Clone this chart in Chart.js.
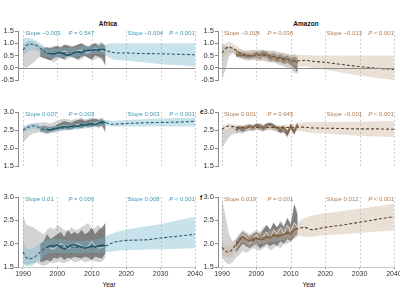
<!DOCTYPE html>
<html>
<head>
<meta charset="utf-8">
<script src="https://cdn.jsdelivr.net/npm/chart.js@4.4.0/dist/chart.umd.min.js"></script>
<style>
body{margin:0;width:400px;height:300px;overflow:hidden;background:#fff;position:relative;font-family:"Liberation Sans",Arial,sans-serif}
canvas{position:absolute}
.lbl{position:absolute;font-size:6.5px;color:#111;white-space:nowrap;line-height:7px}
</style>
</head>
<body>
<div class="lbl" style="left:108px;top:20px;transform:translateX(-50%);font-weight:bold">Africa</div>
<div class="lbl" style="left:306px;top:20px;transform:translateX(-50%);font-weight:bold">Amazon</div>
<div class="lbl" style="left:200px;top:108px;font-weight:bold">e</div>
<div class="lbl" style="left:200px;top:194px;font-weight:bold">f</div>
<div class="lbl" style="left:109px;top:281px;transform:translateX(-50%)">Year</div>
<div class="lbl" style="left:309px;top:281px;transform:translateX(-50%)">Year</div>

<canvas id="cA" width="211" height="79" style="left:0;top:23px"></canvas>
<canvas id="cB" width="211" height="84" style="left:0;top:104px"></canvas>
<canvas id="cC" width="211" height="92" style="left:0;top:189px"></canvas>
<canvas id="cD" width="210" height="79" style="left:200px;top:23px"></canvas>
<canvas id="cE" width="210" height="84" style="left:200px;top:104px"></canvas>
<canvas id="cF" width="210" height="92" style="left:200px;top:189px"></canvas>

<script>
// shared x positions
const decades = [1990, 2000, 2010, 2020, 2030, 2040];
const fitYears = [1990,1991,1992,1993,1994,1995,1996,1997,1998,2000,2002,2004,2006,2008,2010,2012,2014,2016,2020,2025,2030,2035,2040];
const africaObsYears = [1990,1991,1992,1993,1994,1995,1996,1997,1998,1999,2000,2001,2002,2003,2004,2005,2006,2007,2008,2009,2010,2011,2012,2013,2014];
const africaDarkYears = [1995,1996,1997,1998,1999,2000,2001,2002,2003,2004,2005,2006,2007,2008,2009,2010,2011,2012,2013,2014];
const africaLineYears = [1997,1998,1999,2000,2001,2002,2003,2004,2005,2006,2007,2008,2009,2010,2011,2012,2013,2014];
const amazonObsYears = [1990,1991,1992,1993,1994,1995,1996,1997,1998,1999,2000,2001,2002,2003,2004,2005,2006,2007,2008,2009,2010,2011,2012];
const amazonDarkYears = [1994,1995,1996,1997,1998,1999,2000,2001,2002,2003,2004,2005,2006,2007,2008,2009,2010,2011,2012];

// panel a - Africa top
const aFitMid = [0.72,0.9,0.97,0.95,0.9,0.8,0.68,0.6,0.58,0.6,0.62,0.6,0.65,0.7,0.72,0.75,0.72,0.62,0.6,0.58,0.57,0.55,0.53];
const aFitHi = [1.2,1.22,1.2,1.15,1.1,1.0,0.9,0.8,0.78,0.8,0.82,0.8,0.85,0.88,0.9,0.92,0.95,1.0,1.0,1.0,1.0,1.0,1.0];
const aFitLo = [0.5,0.62,0.72,0.75,0.7,0.6,0.48,0.42,0.4,0.42,0.44,0.42,0.47,0.52,0.55,0.58,0.5,0.35,0.3,0.22,0.15,0.1,0.05];
const aObsHi = [0.95,1.05,1.1,1.05,1.0,0.9,0.85,0.8,0.85,0.9,0.85,0.8,0.9,0.95,0.9,0.85,0.95,1.0,0.95,0.9,0.95,1.0,1.0,1.05,0.9];
const aObsLo = [0.05,0.0,0.1,0.2,0.35,0.45,0.4,0.35,0.3,0.2,0.35,0.4,0.3,0.35,0.45,0.4,0.3,0.35,0.45,0.4,0.3,0.35,0.4,0.3,0.05];
const aDarkHi = [0.75,0.8,0.85,0.8,0.85,0.9,0.85,0.95,0.9,0.85,0.9,0.95,1.0,0.9,0.85,0.95,1.0,0.9,1.0,0.85];
const aDarkLo = [0.45,0.4,0.35,0.3,0.4,0.45,0.4,0.35,0.5,0.45,0.4,0.35,0.45,0.5,0.4,0.35,0.5,0.45,0.4,0.1];
const aLine = [0.6,0.58,0.55,0.6,0.62,0.55,0.5,0.55,0.62,0.65,0.6,0.68,0.72,0.7,0.75,0.7,0.76,0.72];
const aLight = [0.65,0.6,0.58,0.55,0.6,0.68,0.62,0.55,0.6,0.7,0.72,0.65,0.6,0.7,0.8,0.72,0.68,0.7];
const aNotes = ['Slope \u22120.003', '= 0.547', 'Slope \u22120.004', '< 0.001'];

// panel b - Africa middle
const bFitMid = [2.49,2.55,2.6,2.61,2.6,2.55,2.52,2.52,2.53,2.54,2.56,2.58,2.6,2.62,2.65,2.68,2.7,2.66,2.68,2.7,2.71,2.72,2.74];
const bFitHi = [2.57,2.63,2.68,2.69,2.68,2.63,2.6,2.6,2.61,2.62,2.64,2.66,2.68,2.7,2.73,2.76,2.78,2.76,2.78,2.8,2.82,2.83,2.85];
const bFitLo = [2.41,2.47,2.52,2.53,2.52,2.47,2.44,2.44,2.45,2.46,2.48,2.5,2.52,2.54,2.57,2.6,2.62,2.6,2.6,2.6,2.6,2.6,2.6];
const bObsHi = [2.6,2.62,2.65,2.68,2.7,2.7,2.72,2.7,2.68,2.72,2.75,2.8,2.82,2.8,2.78,2.8,2.82,2.85,2.8,2.82,2.85,2.8,2.82,2.85,2.75];
const bObsLo = [2.15,2.25,2.35,2.4,2.42,2.45,2.4,2.38,2.4,2.42,2.45,2.48,2.5,2.52,2.5,2.55,2.52,2.55,2.58,2.55,2.6,2.58,2.55,2.6,2.4];
const bDarkHi = [2.6,2.62,2.6,2.58,2.6,2.65,2.7,2.75,2.72,2.7,2.75,2.78,2.8,2.75,2.78,2.8,2.82,2.78,2.8,2.72];
const bDarkLo = [2.45,2.45,2.42,2.45,2.48,2.5,2.52,2.55,2.5,2.52,2.55,2.58,2.55,2.58,2.6,2.58,2.62,2.6,2.62,2.45];
const bLine = [2.52,2.5,2.52,2.55,2.58,2.6,2.58,2.6,2.62,2.6,2.65,2.63,2.66,2.68,2.65,2.7,2.72,2.7];
const bLight = [2.55,2.52,2.5,2.55,2.6,2.62,2.6,2.58,2.62,2.65,2.62,2.6,2.65,2.7,2.68,2.72,2.7,2.68];
const bNotes = ['Slope 0.007', '= 0.003', 'Slope 0.003', '< 0.001'];

// panel c - Africa bottom
const cFitMid = [1.82,1.7,1.68,1.7,1.75,1.82,1.88,1.93,1.96,1.96,1.95,1.93,1.92,1.92,1.93,1.94,1.95,2.02,2.07,2.08,2.12,2.16,2.2];
const cFitHi = [2.05,1.92,1.88,1.9,1.95,2.0,2.05,2.08,2.1,2.1,2.08,2.06,2.05,2.06,2.08,2.1,2.15,2.22,2.3,2.36,2.42,2.5,2.57];
const cFitLo = [1.6,1.52,1.52,1.55,1.6,1.65,1.72,1.78,1.8,1.8,1.8,1.8,1.8,1.8,1.8,1.8,1.82,1.84,1.86,1.87,1.88,1.89,1.9];
const cObsHi = [2.6,2.4,2.38,2.35,2.3,2.25,2.2,2.3,2.35,2.3,2.4,2.35,2.3,2.25,2.35,2.3,2.3,2.35,2.4,2.45,2.3,2.35,2.4,2.3,2.45];
const cObsLo = [1.55,1.55,1.57,1.58,1.6,1.55,1.52,1.55,1.6,1.58,1.62,1.6,1.58,1.62,1.65,1.6,1.62,1.65,1.6,1.62,1.65,1.62,1.6,1.62,1.7];
const cDarkHi = [2.0,2.05,2.2,2.1,2.15,2.2,2.25,2.15,2.3,2.2,2.25,2.2,2.3,2.2,2.25,2.35,2.2,2.3,2.35,2.45];
const cDarkLo = [1.6,1.62,1.65,1.62,1.7,1.68,1.72,1.65,1.7,1.68,1.72,1.7,1.68,1.72,1.7,1.65,1.72,1.7,1.68,1.8];
const cLine = [1.92,1.95,1.95,1.97,1.92,1.88,1.92,1.97,1.98,1.95,1.93,1.9,1.92,1.95,1.93,1.95,1.97,1.95];
const cLight = [1.95,1.9,1.88,1.95,2.0,1.95,1.9,1.92,1.98,2.0,1.95,1.9,1.95,2.05,1.95,1.9,1.92,1.95];
const cNotes = ['Slope 0.01', '= 0.006', 'Slope 0.008', '< 0.001'];

// panel d - Amazon top
const dFitMid = [0.6,0.78,0.84,0.8,0.72,0.62,0.55,0.52,0.5,0.52,0.5,0.48,0.42,0.38,0.32,0.28,0.3,0.27,0.22,0.13,0.05,-0.02,-0.07];
const dFitHi = [0.95,1.0,1.05,1.0,0.92,0.82,0.75,0.72,0.7,0.72,0.7,0.68,0.62,0.58,0.55,0.52,0.52,0.5,0.5,0.5,0.5,0.5,0.5];
const dFitLo = [0.3,0.5,0.62,0.6,0.52,0.42,0.35,0.32,0.3,0.32,0.3,0.28,0.22,0.18,0.1,0.05,0.05,0.0,-0.07,-0.2,-0.32,-0.42,-0.5];
const dObsHi = [0.95,0.9,0.88,0.85,0.78,0.75,0.7,0.68,0.7,0.72,0.7,0.75,0.72,0.7,0.68,0.7,0.65,0.62,0.6,0.55,0.5,0.55,0.5];
const dObsLo = [-0.45,-0.1,0.45,0.6,0.55,0.45,0.35,0.32,0.3,0.35,0.3,0.28,0.3,0.25,0.2,0.22,0.15,0.1,0.05,0.0,-0.05,-0.2,-0.25];
const dDarkHi = [0.7,0.65,0.62,0.6,0.58,0.6,0.65,0.62,0.7,0.65,0.55,0.6,0.5,0.55,0.45,0.5,0.4,0.45,0.4];
const dDarkLo = [0.45,0.42,0.42,0.4,0.38,0.4,0.42,0.35,0.45,0.4,0.28,0.3,0.22,0.25,0.15,0.2,0.1,0.0,-0.2];
const dLine = [0.55,0.52,0.52,0.5,0.48,0.5,0.55,0.48,0.58,0.52,0.42,0.45,0.36,0.4,0.3,0.35,0.25,0.28,0.2];
const dLight = [0.58,0.55,0.55,0.52,0.5,0.55,0.5,0.45,0.55,0.48,0.45,0.4,0.4,0.35,0.35,0.3,0.3,0.25,0.22];
const dNotes = ['Slope \u22120.018', '= 0.036', 'Slope \u22120.013', '< 0.001'];

// panel e - Amazon middle
const eFitMid = [2.52,2.58,2.61,2.6,2.58,2.57,2.57,2.57,2.57,2.57,2.57,2.57,2.57,2.57,2.57,2.58,2.58,2.56,2.55,2.54,2.53,2.53,2.52];
const eFitHi = [2.6,2.65,2.68,2.67,2.65,2.64,2.64,2.64,2.64,2.64,2.64,2.64,2.64,2.64,2.65,2.68,2.72,2.72,2.72,2.73,2.73,2.74,2.74];
const eFitLo = [2.45,2.51,2.54,2.53,2.51,2.5,2.5,2.5,2.5,2.5,2.5,2.5,2.5,2.5,2.5,2.48,2.45,2.42,2.4,2.37,2.34,2.32,2.3];
const eObsHi = [2.5,2.5,2.55,2.6,2.6,2.62,2.62,2.65,2.68,2.65,2.68,2.7,2.65,2.7,2.72,2.68,2.62,2.6,2.62,2.5,2.7,2.55,2.75];
const eObsLo = [2.0,2.15,2.3,2.38,2.4,2.42,2.4,2.45,2.48,2.45,2.5,2.48,2.45,2.5,2.52,2.48,2.45,2.4,2.42,2.28,2.5,2.35,2.55];
const eDarkHi = [2.58,2.62,2.6,2.62,2.65,2.62,2.68,2.66,2.62,2.68,2.7,2.66,2.6,2.58,2.62,2.48,2.68,2.52,2.72];
const eDarkLo = [2.42,2.48,2.45,2.48,2.52,2.5,2.55,2.52,2.48,2.55,2.58,2.52,2.48,2.42,2.45,2.32,2.52,2.38,2.58];
const eLine = [2.5,2.55,2.52,2.55,2.6,2.58,2.62,2.6,2.55,2.62,2.65,2.6,2.55,2.5,2.55,2.4,2.6,2.45,2.65];
const eLight = [2.45,2.5,2.55,2.5,2.55,2.6,2.55,2.6,2.55,2.6,2.62,2.55,2.5,2.52,2.5,2.42,2.55,2.48,2.62];
const eNotes = ['Slope 0.001', '= 0.645', 'Slope \u22120.001', '< 0.001'];

// panel f - Amazon bottom
const fFitMid = [1.92,1.84,1.82,1.88,1.98,2.08,2.14,2.1,2.05,2.1,2.12,2.15,2.18,2.2,2.25,2.32,2.35,2.3,2.35,2.4,2.46,2.52,2.58];
const fFitHi = [2.05,1.95,1.95,2.0,2.1,2.2,2.25,2.22,2.18,2.22,2.24,2.27,2.3,2.33,2.38,2.45,2.55,2.6,2.65,2.7,2.75,2.8,2.86];
const fFitLo = [1.78,1.72,1.7,1.75,1.85,1.95,2.03,1.98,1.93,1.98,2.0,2.03,2.06,2.08,2.12,2.18,2.15,2.15,2.18,2.2,2.23,2.26,2.29];
const fObsHi = [2.95,2.6,2.2,2.05,2.1,2.2,2.3,2.25,2.2,2.25,2.3,2.25,2.35,2.4,2.3,2.45,2.35,2.5,2.4,2.55,2.45,2.85,2.7];
const fObsLo = [1.7,1.6,1.55,1.6,1.7,1.75,1.85,1.8,1.85,1.9,1.88,1.85,1.9,1.95,1.85,1.9,1.95,1.9,2.0,2.0,2.05,2.1,2.15];
const fDarkHi = [2.05,2.15,2.25,2.2,2.15,2.2,2.25,2.2,2.3,2.4,2.3,2.45,2.35,2.45,2.35,2.55,2.4,2.85,2.6];
const fDarkLo = [1.8,1.9,2.0,1.95,1.9,1.95,2.0,1.9,1.95,2.0,1.95,2.0,1.95,2.05,2.0,2.1,2.05,2.15,2.2];
const fLine = [1.95,2.05,2.15,2.1,2.05,2.1,2.12,2.08,2.1,2.15,2.12,2.2,2.15,2.18,2.2,2.25,2.2,2.3,2.32];
const fLight = [1.9,2.0,2.2,2.15,2.0,2.1,2.2,2.05,2.15,2.25,2.1,2.3,2.2,2.35,2.2,2.4,2.25,2.45,2.35];
const fNotes = ['Slope 0.019', '= 0.001', 'Slope 0.012', '< 0.001'];

const AFRICA = {band: 'rgba(115,182,206,0.4)', text: '#4696b6', dash: '#2b5d70', line: '#1d5266', light: 'rgba(232,240,242,0.9)'};
const AMAZON = {band: 'rgba(199,173,144,0.38)', text: '#ad7b52', dash: '#5a4433', line: '#84603f', light: 'rgba(242,234,224,0.9)'};
const FONT = '"Liberation Sans", Arial, sans-serif';

function pts(xs, ys) {
  return xs.map((x, i) => ({x: x, y: ys[i]}));
}

function band(xs, hi, lo, color, order, smooth) {
  let mode = smooth ? 'monotone' : 'default';
  return [
    {data: pts(xs, hi), fill: '+1', backgroundColor: color, borderColor: 'rgba(0,0,0,0)', borderWidth: 0, pointRadius: 0, order: order, cubicInterpolationMode: mode},
    {data: pts(xs, lo), fill: false, borderColor: 'rgba(0,0,0,0)', borderWidth: 0, pointRadius: 0, order: order, cubicInterpolationMode: mode}
  ];
}

// dashed decade lines, zero line and the slope notes
const guides = {
  id: 'guides',
  beforeDatasetsDraw(chart) {
    const {ctx, chartArea: a, scales: {x}} = chart;
    ctx.save();
    ctx.strokeStyle = '#c4c4c4';
    ctx.lineWidth = 0.8;
    ctx.setLineDash([2, 2]);
    decades.forEach(d => {
      let px = Math.round(x.getPixelForValue(d)) + 0.5;
      ctx.beginPath();
      ctx.moveTo(px, a.top);
      ctx.lineTo(px, a.bottom);
      ctx.stroke();
    });
    ctx.restore();
  },
  afterDatasetsDraw(chart, args, opts) {
    const {ctx, chartArea: a, scales: {x, y}} = chart;
    ctx.save();
    if (y.min < 0) {
      let py = Math.round(y.getPixelForValue(0)) + 0.5;
      ctx.strokeStyle = '#8a8a8a';
      ctx.lineWidth = 1;
      ctx.beginPath();
      ctx.moveTo(a.left, py);
      ctx.lineTo(a.right, py);
      ctx.stroke();
    }
    const n = opts.notes;
    const ty = a.top + 2.5;
    ctx.fillStyle = opts.color;
    ctx.textBaseline = 'middle';
    ctx.font = '6px ' + FONT;
    ctx.fillText(n[0], x.getPixelForValue(1990.6), ty);
    ctx.fillText(n[2], x.getPixelForValue(2020.4), ty);
    // P values with italic P
    const drawP = (rest, left) => {
      ctx.font = 'italic 6px ' + FONT;
      let w = ctx.measureText('P ').width;
      ctx.fillText('P', left, ty);
      ctx.font = '6px ' + FONT;
      ctx.fillText(rest, left + w, ty);
    };
    drawP(n[1], x.getPixelForValue(2003.2));
    ctx.font = '6px ' + FONT;
    let restW = ctx.measureText(n[3]).width;
    ctx.font = 'italic 6px ' + FONT;
    let pW = ctx.measureText('P ').width;
    drawP(n[3], x.getPixelForValue(2040) - restW - pW);
    ctx.restore();
  }
};

function makeChart(id, p) {
  const c = p.colors;
  const datasets = [].concat(
    band(p.obsYears, p.obsHi, p.obsLo, 'rgba(120,120,120,0.33)', 6, false),
    band(p.darkYears, p.darkHi, p.darkLo, 'rgba(45,45,45,0.5)', 5, false),
    band(fitYears, p.fitHi, p.fitLo, c.band, 4, true),
    [
      {data: pts(p.lineYears, p.light), borderColor: c.light, borderWidth: 0.8, pointRadius: 0, fill: false, order: 3},
      {data: pts(fitYears, p.fitMid), borderColor: c.dash, borderWidth: 1.1, borderDash: [3, 2], pointRadius: 0, fill: false, order: 2, cubicInterpolationMode: 'monotone'},
      {data: pts(p.lineYears, p.line), borderColor: c.line, borderWidth: 1.4, pointRadius: 0, fill: false, order: 1}
    ]
  );

  new Chart(document.getElementById(id), {
    type: 'line',
    data: {datasets: datasets},
    options: {
      responsive: false,
      animation: false,
      events: [],
      layout: {padding: {top: 8, right: 16, bottom: p.bottom ? 0 : 8, left: 0}},
      scales: {
        x: {
          type: 'linear',
          min: p.xMin,
          max: 2040,
          display: p.bottom,
          afterFit: s => { s.height = 14; },
          afterBuildTicks: s => { s.ticks = decades.map(v => ({value: v})); },
          ticks: {font: {family: FONT, size: 7}, color: '#333', padding: 1, maxRotation: 0, autoSkip: false, callback: v => String(v)},
          grid: {drawOnChartArea: false, tickLength: 2, color: '#888'},
          border: {display: true, color: '#c8c8c8'}
        },
        y: {
          min: p.yMin,
          max: p.yMax,
          afterFit: s => { s.width = 18; },
          ticks: {stepSize: 0.5, font: {family: FONT, size: 7.5}, color: '#333', padding: 1, callback: v => v.toFixed(1)},
          grid: {drawOnChartArea: false, tickLength: 3, color: '#888'},
          border: {display: true, color: '#8a8a8a'}
        }
      },
      plugins: {
        legend: {display: false},
        tooltip: {enabled: false},
        guides: {notes: p.notes, color: c.text}
      }
    },
    plugins: [guides]
  });
}

const LEFT_MIN = 1988.55;
const RIGHT_MIN = 1988.84;

makeChart('cA', {colors: AFRICA, xMin: LEFT_MIN, yMin: -0.5, yMax: 1.5, bottom: false, notes: aNotes,
  obsYears: africaObsYears, obsHi: aObsHi, obsLo: aObsLo, darkYears: africaDarkYears, darkHi: aDarkHi, darkLo: aDarkLo,
  lineYears: africaLineYears, line: aLine, light: aLight, fitHi: aFitHi, fitLo: aFitLo, fitMid: aFitMid});
makeChart('cB', {colors: AFRICA, xMin: LEFT_MIN, yMin: 1.5, yMax: 3.0, bottom: false, notes: bNotes,
  obsYears: africaObsYears, obsHi: bObsHi, obsLo: bObsLo, darkYears: africaDarkYears, darkHi: bDarkHi, darkLo: bDarkLo,
  lineYears: africaLineYears, line: bLine, light: bLight, fitHi: bFitHi, fitLo: bFitLo, fitMid: bFitMid});
makeChart('cC', {colors: AFRICA, xMin: LEFT_MIN, yMin: 1.5, yMax: 3.0, bottom: true, notes: cNotes,
  obsYears: africaObsYears, obsHi: cObsHi, obsLo: cObsLo, darkYears: africaDarkYears, darkHi: cDarkHi, darkLo: cDarkLo,
  lineYears: africaLineYears, line: cLine, light: cLight, fitHi: cFitHi, fitLo: cFitLo, fitMid: cFitMid});
makeChart('cD', {colors: AMAZON, xMin: RIGHT_MIN, yMin: -0.5, yMax: 1.5, bottom: false, notes: dNotes,
  obsYears: amazonObsYears, obsHi: dObsHi, obsLo: dObsLo, darkYears: amazonDarkYears, darkHi: dDarkHi, darkLo: dDarkLo,
  lineYears: amazonDarkYears, line: dLine, light: dLight, fitHi: dFitHi, fitLo: dFitLo, fitMid: dFitMid});
makeChart('cE', {colors: AMAZON, xMin: RIGHT_MIN, yMin: 1.5, yMax: 3.0, bottom: false, notes: eNotes,
  obsYears: amazonObsYears, obsHi: eObsHi, obsLo: eObsLo, darkYears: amazonDarkYears, darkHi: eDarkHi, darkLo: eDarkLo,
  lineYears: amazonDarkYears, line: eLine, light: eLight, fitHi: eFitHi, fitLo: eFitLo, fitMid: eFitMid});
makeChart('cF', {colors: AMAZON, xMin: RIGHT_MIN, yMin: 1.5, yMax: 3.0, bottom: true, notes: fNotes,
  obsYears: amazonObsYears, obsHi: fObsHi, obsLo: fObsLo, darkYears: amazonDarkYears, darkHi: fDarkHi, darkLo: fDarkLo,
  lineYears: amazonDarkYears, line: fLine, light: fLight, fitHi: fFitHi, fitLo: fFitLo, fitMid: fFitMid});
</script>
</body>
</html>
